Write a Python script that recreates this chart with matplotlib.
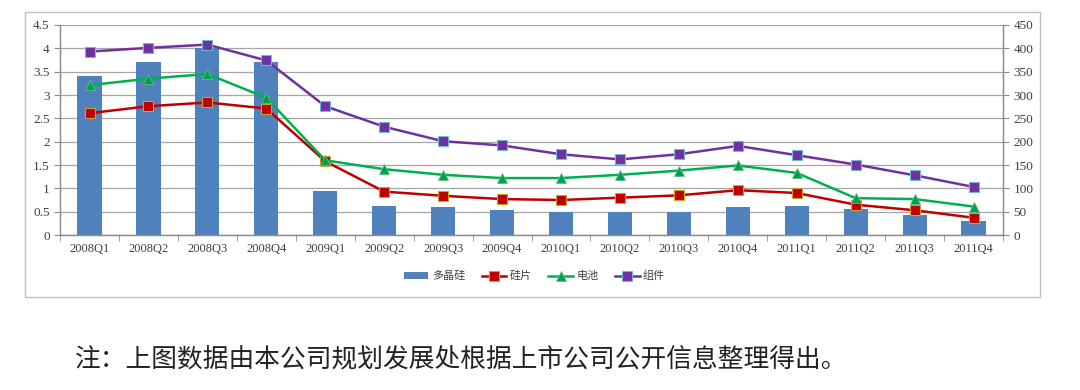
import matplotlib
matplotlib.use('Agg')
import matplotlib.pyplot as plt
import numpy as np
from matplotlib.patches import Rectangle

# quarters and prices
quarters = ['2008Q1', '2008Q2', '2008Q3', '2008Q4', '2009Q1', '2009Q2', '2009Q3', '2009Q4',
            '2010Q1', '2010Q2', '2010Q3', '2010Q4', '2011Q1', '2011Q2', '2011Q3', '2011Q4']
polysilicon = [340, 370, 400, 370, 95, 62, 60, 54, 49, 49, 49, 59, 62, 55, 42, 30]   # right axis
wafer = [2.61, 2.76, 2.84, 2.71, 1.58, 0.93, 0.84, 0.77, 0.75, 0.80, 0.85, 0.96, 0.90, 0.65, 0.53, 0.37]
cell = [3.21, 3.35, 3.45, 2.94, 1.60, 1.41, 1.29, 1.22, 1.22, 1.29, 1.38, 1.49, 1.33, 0.79, 0.77, 0.61]
module = [3.93, 4.01, 4.08, 3.74, 2.76, 2.32, 2.01, 1.92, 1.73, 1.62, 1.73, 1.91, 1.71, 1.51, 1.28, 1.03]

series_names = ['多晶硅', '硅片', '电池', '组件']

serif = ['Liberation Serif', 'DejaVu Serif']
cjk = ['Noto Sans CJK SC', 'DejaVu Sans']

fig = plt.figure(figsize=(10.8, 3.9), dpi=100)

# outer chart frame
fig.patches.append(Rectangle((0.0231, 0.2385), 0.940, 0.731, transform=fig.transFigure,
                             fill=False, edgecolor='#c0c0c0', linewidth=1.0))

ax = fig.add_axes([0.0556, 0.3974, 0.8731, 0.5385])
ax2 = ax.twinx()

x = np.arange(len(quarters))

# bars on the right axis, drawn behind lines
ax2.bar(x, polysilicon, width=0.41, color='#4f81bd', zorder=1, label=series_names[0])
ax2.set_ylim(0, 450)
ax2.set_yticks(np.arange(0, 451, 50))

ax.set_zorder(ax2.get_zorder() + 1)
ax.patch.set_visible(False)

l1, = ax.plot(x, wafer, color='#c00000', linewidth=1.8, marker='s', markersize=6.5,
              markerfacecolor='#c00000', markeredgecolor='#c9a227', markeredgewidth=0.8,
              label=series_names[1])
l2, = ax.plot(x, cell, color='#00b050', linewidth=1.8, marker='^', markersize=6.5,
              markerfacecolor='#00a050', markeredgecolor='#5fbf7f', markeredgewidth=0.6,
              label=series_names[2])
l3, = ax.plot(x, module, color='#7030a0', linewidth=1.8, marker='s', markersize=6.5,
              markerfacecolor='#7030a0', markeredgecolor='#6fb8d8', markeredgewidth=0.8,
              label=series_names[3])

ax.set_ylim(0, 4.5)
ax.set_yticks(np.arange(0, 4.51, 0.5))
ax.set_yticklabels(['0', '0.5', '1', '1.5', '2', '2.5', '3', '3.5', '4', '4.5'])
ax.set_xlim(-0.5, len(quarters) - 0.5)
ax.set_xticks(x)
ax.set_xticklabels(quarters)
ax.set_xticks(np.arange(-0.5, len(quarters), 1), minor=True)
ax.tick_params(axis='x', which='major', length=0, pad=6)
ax.tick_params(axis='x', which='minor', length=4, color='#8c8c8c', direction='out')

# grid lines
ax2.yaxis.grid(True, color='#a6a6a6', linewidth=0.9, zorder=0)
ax2.set_axisbelow(True)

for a in (ax, ax2):
    a.spines['top'].set_visible(False)
    for s in ('left', 'right', 'bottom'):
        a.spines[s].set_color('#8c8c8c')
        a.spines[s].set_linewidth(0.9)
    a.tick_params(axis='y', length=4, color='#8c8c8c', labelsize=9.5, colors='#404040')
    for lab in a.get_yticklabels():
        lab.set_family(serif)

ax.tick_params(axis='x', labelsize=9, colors='#404040')
for lab in ax.get_xticklabels():
    lab.set_family(serif)

bars_handle = ax2.containers[0]
leg = fig.legend([bars_handle, l1, l2, l3], series_names, loc='center',
                 bbox_to_anchor=(0.495, 0.292), ncol=4, frameon=False,
                 prop={'family': cjk, 'size': 8}, handlelength=2.2, handletextpad=0.3,
                 columnspacing=1.5)
for t in leg.get_texts():
    t.set_color('#404040')

fig.text(0.069, 0.077, '注：上图数据由本公司规划发展处根据上市公司公开信息整理得出。',
         family=cjk, fontsize=18.5, color='#222222', va='center', ha='left')

fig.savefig('out.png', dpi=100)
